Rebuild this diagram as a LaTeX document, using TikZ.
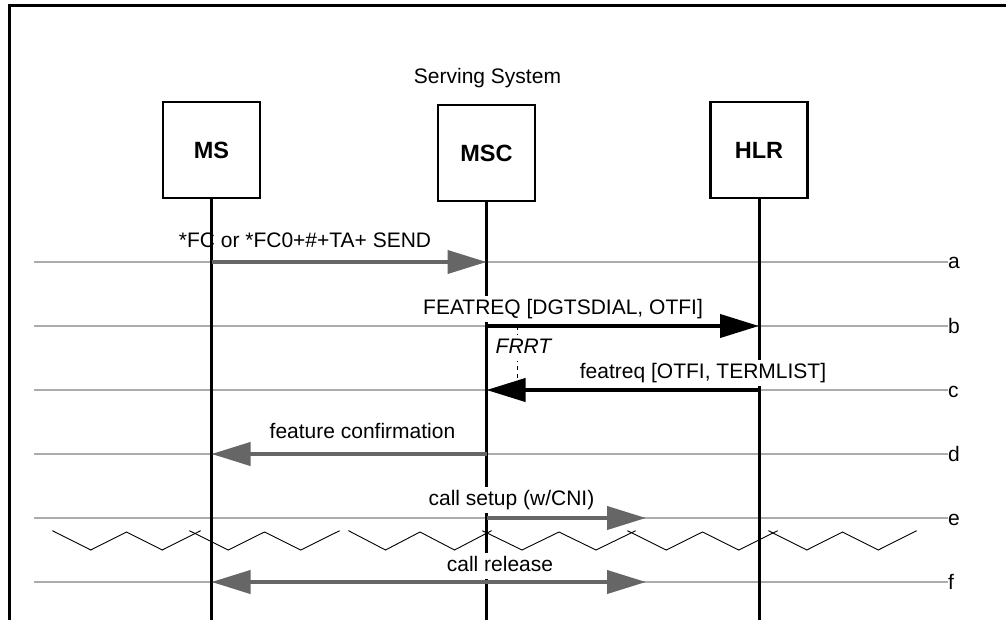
\documentclass[tikz,border=0pt]{standalone}
\usepackage{fontspec}
\setmainfont{Liberation Sans}
\usetikzlibrary{arrows.meta}

\definecolor{msggray}{HTML}{666666}
\definecolor{guidegray}{HTML}{ACACAC}

\tikzset{
  entity/.style={draw, line width=2.2pt, minimum width=97pt, minimum height=96pt,
    inner sep=0pt, font=\fontsize{23.5}{28}\selectfont\bfseries},
  lifeline/.style={line width=3pt},
  guide/.style={draw=guidegray, line width=1.4pt},
  msg/.style={line width=4pt, -{Triangle[length=39pt,width=23pt]}},
  graymsg/.style={msg, color=msggray},
  blackmsg/.style={msg, color=black},
  msglabel/.style={fill=white, inner xsep=1pt, inner ysep=3pt, text height=15.5pt,
    text depth=4.5pt, anchor=base, font=\fontsize{21}{25}\selectfont},
  rowlabel/.style={inner sep=0pt, anchor=base west, font=\fontsize{21}{25}\selectfont},
  zigzag/.style={line width=0.9pt, shorten <=-3pt, shorten >=-3pt}
}

\begin{document}
\begin{tikzpicture}[x=1pt,y=-1pt]
  \useasboundingbox (0,0) rectangle (1006,620);

  % Frame
  \draw[line width=3pt] (9,630) |- (1012,6);

  % Rows
  \foreach \r/\y in {a/262,b/326,c/390,d/454,e/518,f/582}{
    \coordinate (row-\r) at (34,\y);
    \node[rowlabel] (lbl-\r) at (948,\y+7) {\r};
    \draw[guide] (row-\r) -- (row-\r -| lbl-\r.west);
  }
  \coordinate (bottom) at (0,630);

  % Entities
  \node[font=\fontsize{21}{25}\selectfont, anchor=base] (serving) at (487.5,84) {Serving System};
  \node[entity] (ms) at (211.5,150) {MS};
  \node[entity] (msc) at (486.5,153) {MSC};
  \node[entity] (hlr) at (759,150) {HLR};
  \foreach \n in {ms,msc,hlr}
    \draw[lifeline] (\n.south) -- (\n |- bottom);

  % Break
  \foreach \s/\e in {55/198,192/337,351/489,485/633,630/775,771/914}{
    \pgfmathsetmacro\h{(\e-\s)/4}
    \draw[zigzag] (\s,532) -- ++(\h,18) -- ++(\h,-18) -- ++(\h,18) -- ++(\h,-18);
  }

  % Messages
  \coordinate (e-end) at (646,518);
  \coordinate (f-end) at (646,582);
  \draw[graymsg] (ms |- row-a) -- (msc |- row-a);
  \draw[blackmsg] (msc |- row-b) -- (hlr |- row-b);
  \draw[blackmsg] (hlr |- row-c) -- (msc |- row-c);
  \draw[graymsg] (msc |- row-d) -- (ms |- row-d);
  \draw[graymsg] (msc |- row-e) -- (e-end);
  \draw[graymsg, {Triangle[length=39pt,width=23pt]}-{Triangle[length=39pt,width=23pt]}] (ms |- row-f) -- (f-end);

  % Labels
  \node[msglabel, fill=none] (txt-a) at (305,247.5) {*FC or *FC0+\#+TA+ SEND};
  \node[msglabel] (txt-b) at (563,314) {FEATREQ [DGTSDIAL, OTFI]};
  \node[msglabel] (txt-c) at (703,378) {featreq [OTFI, TERMLIST]};
  \node[msglabel] (txt-d) at (362.5,438) {feature confirmation};
  \node[msglabel] (txt-e) at (511.5,505) {call setup (w/CNI)};
  \node[msglabel] (txt-f) at (500,571.5) {call release};

  % Timer
  \coordinate (frrt-top) at (517.5,326);
  \coordinate (frrt-bot) at (517.5,388);
  \draw[line width=1.5pt, dash pattern=on 4pt off 4pt] (frrt-top) -- (frrt-bot);
  \node[msglabel, font=\fontsize{21}{25}\selectfont\itshape] (frrt) at (523.5,353) {FRRT};
\end{tikzpicture}
\end{document}
